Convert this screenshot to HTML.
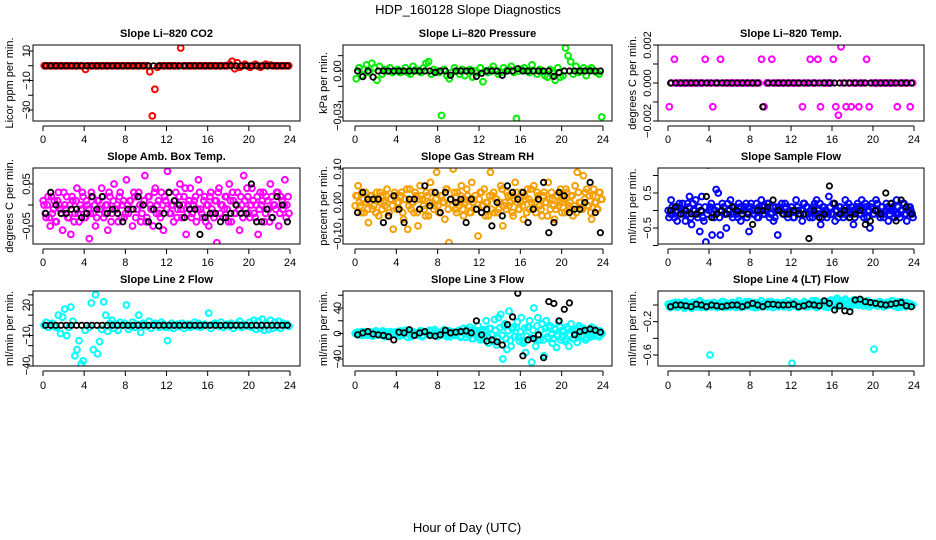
<!DOCTYPE html>
<html><head><meta charset="utf-8"><style>
html,body{margin:0;padding:0;background:#fff;}
svg{display:block;font-family:"Liberation Sans",Arial,sans-serif;}
</style></head><body>
<svg id="chart" width="936" height="540" viewBox="0 0 936 540" xmlns="http://www.w3.org/2000/svg">
<text x="468" y="14" font-size="13" text-anchor="middle">HDP_160128  Slope Diagnostics</text>
<text x="467" y="532" font-size="13" text-anchor="middle">Hour of Day (UTC)</text>
</svg>
<script>
// ---- data arrays ----
const xTickValues = [0,4,8,12,16,20,24];
const p1Colored = [0,0,0,0,0,0,0,0,0,0,0,0,0,0,0,0,
-2.5,0,0,0,0,0,0,0,0,0,0,0,0,0,0,0,
0,0,0,0,0,0,0,0,0,-4,-34,-16,-1,0,0,0,
0,0,0,0,0,12,0,0,0,0,0,0,0,0,0,0,
0,0,0,0,0,0,0,0,1,3,-2,2,-1,0,1,0,
-1,0,1,0,-1,0,1,0,0.5,0,0,0,0,0,0,0];
const p1Colored2 = [];
const p1Black = [0,0,0,0,0,0,0,0,0,0,0,0,0,0,0,0,0,0,0,0,0,0,0,0,0,0,0,0,0,0,0,0,0,0,0,0,0,0,0,0,0,0,0,0,0,0,0,0];
const p2Colored = [-5,2,-3,1,4,-1,5,2,-6,3,-2,1,0,2,-1,0,
1,-1,0,2,-1,-2,3,1,0,-1,2,5,6,-2,1,0,
-1,-29,1,-3,-5,-1,2,0,-2,1,-3,0,1,-4,0,-1,
2,-7,0,-1,1,3,0,-2,-1,2,0,1,3,-1,-31,0,
1,2,0,-1,4,0,-2,1,0,-3,-4,1,-1,-6,2,-4,
-3,15,10,6,-2,3,-1,0,2,-3,1,2,0,-1,-2,-30];
const p2Colored2 = [];
const p2Black = [0,-3.7,0,-4,0,0,0,0,0,0,0,0,0,0,0,-1,0,0,-2.8,0,0,0,0,-3.5,-1.5,0,0,0,-2.8,0,0,1.5,0,0,0,0,0,0,-3.5,-1,0,0,0,0,0,0,0,0];
const p3Colored = [-12.5,0,12.5,0,0,0,0,0,0,0,0,0,0,0,12.5,0,
0,-12.5,0,0,12.5,0,0,0,0,0,0,0,0,0,0,0,
0,0,0,0,12.5,-12.5,0,0,12.5,0,0,0,0,0,0,0,
0,0,0,0,-12.5,0,0,12.5,0,0,12.5,-12.5,0,0,0,0,
12.5,-12.5,-17,19,0,-12.5,0,-12.5,0,0,-12.5,0,0,12.5,-12.5,0,
0,0,0,0,0,0,0,0,0,-12.5,0,0,0,0,-12.5,0];
const p3Colored2 = [];
const p3Black = [0,0,0,0,0,0,0,0,0,0,0,0,0,0,0,0,0,0,-12.5,0,0,0,0,0,0,0,0,0,0,0,0,0,0,0,0,0,0,0,0,0,0,0,0,0,0,0,0,0];
const p4Colored = [0,-3,2,-5,-2,1,-4,3,-1,-6,0,2,-3,-7,1,-2,4,-4,-1,2,
-3,0,-8,3,-2,-5,1,-1,4,-3,0,-6,2,-2,5,-1,-4,3,0,-3,
6,-2,1,-5,2,-1,3,-4,0,7,-3,2,-1,-5,4,0,-2,3,-6,1,
8,-2,0,-4,3,-1,5,-3,2,-7,0,4,-2,1,-4,6,-1,-3,2,0,
-5,3,-2,1,-9,4,0,-3,2,-1,5,-4,1,-2,3,-6,0,7,-1,2,
-3,4,-2,0,-7,3,1,-4,2,-1,5,-3,0,3,-5,2,-1,6,0,-2];
const p4Colored2 = [1,-2,0,-3,2,-1,-4,1,0,-2,3,-1,-3,0,2,-4,1,-2,0,3,-3,1,-1,-2,2,0,-3,1,-1,2,-2,0,3,-4,1,-1,0,2,-3,1,
-2,0,1,-1,3,-3,2,0,-2,1,-4,2,0,-1,3,-2,1,-3,0,2,-1,3,-2,0,1,-3,2,-1,0,4,-2,1,-3,0,2,-1,3,-2,1,-4,
0,2,-1,-3,1,3,-2,0,-1,2,-4,1,3,-2,0,-1,2,-3,1,4,-2,0,1,-3,2,-1,0,3,-2,1,-4,2,0,-1,3,-2,1,0,-3,2];
const p4Black = [-2,3,0,-2,-2,-1,-1,-3,-2,2,-1,2,-2,-1,-2,-4,-1,-1,2,0,-4,-1,-5,-2,3,1,0,-3,-1,-1,-7,-3,-2,-2,-4,-3,-2,0,-2,-2,5,-4,-4,-1,-3,2,0,-4];
const p5Colored = [2,5,-1,3,-3,0,-6,2,-2,1,3,-4,0,2,-1,4,-3,1,-8,2,
0,-2,3,-5,1,-8,4,0,-3,2,-7,5,1,-2,3,-4,6,0,-1,9,
-3,2,0,-5,4,-12,1,10,-2,3,-1,5,-4,0,2,-3,6,1,-2,-10,
3,-1,4,0,-4,9,2,-3,1,-2,5,-7,0,3,-1,2,-4,6,0,-2,
3,-5,1,4,-2,0,5,-3,2,-1,-4,3,0,6,-2,1,-5,2,-1,4,
0,-3,3,-1,2,-4,5,9,0,-2,8,3,-1,2,-5,4,0,-2,3,1];
const p5Colored2 = [-1,2,0,-3,1,3,-2,0,2,-1,-3,1,3,-2,0,2,-4,1,-1,3,-2,0,2,-3,1,4,-1,-2,0,3,-3,1,2,-1,-4,2,0,3,-2,1,
-1,-3,2,0,4,-2,1,-1,3,-3,0,2,-2,1,4,-1,-3,0,2,-2,1,3,-1,-4,0,2,-2,3,1,-3,0,4,-1,-2,2,0,-3,1,3,-2,
0,-1,2,-3,1,4,-2,0,3,-1,-2,2,0,-4,1,3,-1,-2,2,0,-3,1,4,-2,0,2,-1,-3,3,0,-2,1,4,-1,-3,2,0,-2,3,1];
const p5Black = [-3,3,1,1,1,-6,-4,2,-2,-6,1,1,-2,5,-1,3,-3,3,1,0,1,-6,1,-2,-3,-2,-7,0,-4,5,3,1,3,-6,-2,1,6,-9,-6,3,2,-3,-2,-2,0,6,-3,-9];
const p6Colored = [-2,3,-1,1,-3,2,0,-1,-3,2,4,-4,0,3,-2,-6,4,-3,-9,13,
1,-7,-2,6,5,-7,2,-1,-5,0,3,-2,1,-1,2,-3,0,1,-2,-6,
2,-1,0,-2,1,3,-1,0,2,-2,-1,-3,1,-7,0,2,-1,1,-2,0,
1,-2,3,0,-1,-3,2,1,-1,0,-2,2,3,-1,-4,1,0,-2,4,-1,
2,-3,0,1,-1,-2,3,0,-2,1,-4,0,2,-1,3,-2,1,0,-5,2,
-1,3,0,-2,1,-1,2,-3,0,1,-2,3,-1,0,2,-1,-3,1,0,-2];
const p6Colored2 = [0,-1,1,-2,0,1,-1,2,0,-1,1,-2,2,0,-1,1,0,-2,1,-1,0,2,-1,0,1,-2,0,1,-1,2,0,-1,1,0,-2,1,-1,0,2,-1,
1,0,-1,2,-2,0,1,-1,0,2,-1,1,-2,0,1,0,-1,2,-1,0,1,-2,0,1,-1,0,2,-1,1,-2,0,1,-1,0,2,-2,1,0,-1,1,
-1,2,0,-2,1,0,-1,1,2,-1,0,-2,1,1,-1,0,2,-2,0,1,-1,0,2,-1,1,-2,0,1,-1,2,0,-1,1,-2,0,2,-1,0,1,-1];
const p6Black = [0,1,-1,0,-1,-1,0,4,-2,-1,0,-1,1,0,-1,-1,-4,0,0,1,3,0,-1,-1,0,-1,-1,-8,0,-2,-1,7,2,-1,0,-2,-1,0,-4,-3,0,-1,5,2,-3,3,1,-1];
const p7Colored = [0,3,-2,1,2,-1,-2,10,-8,8,16,-10,-2,18,4,-30,-24,-15,-38,-35,
-5,38,-2,22,-24,30,-28,-16,-4,23,10,-6,2,5,-3,1,-5,3,0,2,
20,-4,-1,3,-2,1,10,-7,2,0,-1,4,-3,1,2,0,-2,3,1,-2,
-15,-2,2,-3,0,1,-1,2,-3,0,1,-2,0,3,-1,2,-2,0,1,0,
12,-3,1,2,0,-1,3,-2,0,1,-1,2,-3,0,1,4,-2,1,0,-1,
3,-2,5,-4,4,-3,6,-5,2,-4,5,-3,3,-2,4,-3,2,0,1,-1];
const p7Colored2 = [];
const p7Black = [0,0,0,0,0,0,0,0,0,0,0,0,0,0,0,0,0,0,0,0,0,0,0,0,0,0,0,0,0,0,0,0,0,0,0,0,0,0,0,0,0,0,0,0,0,0,0,0];
const p8Colored = [1,-2,2,-3,3,-1,0,2,-4,1,3,-2,0,4,-5,2,-3,1,0,-2,
3,-4,2,-1,5,-6,0,3,-2,1,-3,4,-5,2,0,-1,3,-2,6,-4,
1,-3,2,0,-5,4,-1,2,-3,1,5,-4,8,-6,2,10,-8,4,-3,12,
-10,6,-5,20,-15,8,-12,22,-18,25,30,-40,15,-25,35,-20,10,-5,18,-12,
25,-15,-30,10,20,-45,40,-20,25,-10,15,-35,20,-8,12,-15,8,-22,18,-10,
5,-12,10,-20,15,-8,6,-14,12,-5,8,-10,5,-6,10,-4,6,-3,4,0];
const p8Colored2 = [0,2,-1,3,-2,1,-3,0,2,-1,4,-2,1,-3,2,0,-4,3,-1,2,-2,1,4,-3,0,2,-1,-5,3,1,-2,0,4,-3,2,-1,5,-2,0,3,
-4,2,-1,6,-3,1,-5,3,0,-2,4,-6,2,-1,7,-3,5,-8,2,4,-6,3,-9,6,-4,8,-2,-10,5,-7,9,-3,12,-8,4,-11,7,-5,10,-6,
3,-12,8,-4,10,-7,5,-9,12,-3,6,-10,8,-5,9,-2,-8,6,-4,11,-6,3,-9,7,-2,5,-8,4,-6,9,-3,2,-7,5,-4,6,-2,3,-5,1];
const p8Black = [-2,1,3,-1,-2,-3,-5,-10,2,1,6,-3,1,3,-3,-4,-2,5,1,2,3,4,1,20,-2,-12,-10,-13,-18,14,26,63,-35,-10,-8,-2,-38,50,47,20,38,48,-2,3,5,7,5,2];
const p9Colored = [-2,1,-1,3,-3,0,2,-2,4,-1,1,-4,0,3,-2,5,-1,1,-3,2,
-60,0,3,-2,1,-1,4,-3,2,0,-2,3,-1,1,5,-3,0,2,-1,4,
-2,1,3,-3,0,5,-1,2,-2,1,4,-3,0,3,-1,1,-2,2,5,0,
-70,-1,3,-3,1,0,4,-2,2,-1,5,1,-3,3,0,2,-2,4,-1,6,
1,3,8,0,5,2,7,-1,4,1,6,3,0,5,2,-1,4,1,3,0,
-53,2,-1,4,1,-2,3,0,2,5,-1,1,4,-2,2,0,3,-1,1,0];
const p9Colored2 = [1,-3,2,0,-2,3,-1,1,-4,2,0,-1,3,-2,1,4,-3,0,2,-1,1,-2,3,0,-3,2,-1,4,0,-2,1,3,-1,-3,2,0,1,-2,4,-1,
0,2,-3,1,3,-1,-2,2,0,4,-1,-3,1,2,-2,0,3,-1,1,-3,2,0,4,-2,1,-1,3,0,-2,2,1,-1,5,-2,0,3,-1,2,-3,1,
4,0,-2,6,1,3,-1,5,2,-2,4,1,6,0,3,-1,2,5,-2,1,3,0,-1,4,2,-2,1,3,0,5,-1,2,-3,1,4,0,-2,2,1,-1];
const p9Black = [-2,0,0,-1,-2,1,0,-2,0,-1,-2,-1,0,0,-2,0,2,0,-2,1,1,0,0,0,1,-2,-1,1,0,-1,5,2,-6,-1,-7,-8,6,7,4,3,2,1,0,1,2,3,-1,-2];

const yTicks1 = [10,0,-10,-20,-30], yLabels1 = ["10","","−10","","−30"];
const yTicks2 = [0.01,0,-0.01,-0.02,-0.03], yLabels2 = ["","0.00","","","−0.03"];
const yTicks3 = [0.002,0.001,0,-0.001,-0.002], yLabels3 = ["0.002","","0.000","","−0.002"];
const yTicks4 = [0.05,0,-0.05], yLabels4 = ["0.05","","−0.05"];
const yTicks5 = [0.10,0.05,0,-0.05,-0.10], yLabels5 = ["0.10","","0.00","","−0.10"];
const yTicks6 = [1.0,0.5,0,-0.5,-1.0], yLabels6 = ["","0.5","","−0.5",""];
const yTicks7 = [30,20,10,0,-10,-20,-30,-40], yLabels7 = ["","20","","","−10","","","−40"];
const yTicks8 = [60,40,20,0,-20,-40], yLabels8 = ["","40","","0","","−40"];
const yTicks9 = [0,-0.2,-0.4,-0.6], yLabels9 = ["","−0.2","","−0.6"];

// ---- layout (not data) ----
const cols = [{l:33,r:300,x0:43,x24:290,tl:30,yt:13},{l:343,r:612,x0:355,x24:603,tl:341,yt:327},{l:658,r:924,x0:668,x24:914,tl:651,yt:636}];
const rows = [{t:45,b:121,title:37,xl:139},{t:168,b:244,title:160,xl:262},{t:291,b:366,title:283,xl:385}];
const panels = [
 {name:"co2",title:"Slope Li–820 CO2",ylab:"Licor ppm per min.",c:0,r:0,color:"#ff0000",unit:1,col:p1Colored,col2:p1Colored2,blk:p1Black,ya:[10,51],yb:[-30,110],ticks:yTicks1,labels:yLabels1},
 {name:"pressure",title:"Slope Li–820 Pressure",ylab:"kPa per min.",c:1,r:0,color:"#00ee00",unit:0.001,col:p2Colored,col2:p2Colored2,blk:p2Black,ya:[0,71],yb:[-0.03,117],ticks:yTicks2,labels:yLabels2},
 {name:"temp",title:"Slope Li–820 Temp.",ylab:"degrees C per min.",c:2,r:0,color:"#ff00ff",unit:0.0001,col:p3Colored,col2:p3Colored2,blk:p3Black,ya:[0.002,45],yb:[-0.002,121],ticks:yTicks3,labels:yLabels3},
 {name:"amb-box-temp",title:"Slope Amb. Box Temp.",ylab:"degrees C per min.",c:0,r:1,color:"#ff00ff",unit:0.01,col:p4Colored,col2:p4Colored2,blk:p4Black,ya:[0.05,184],yb:[-0.05,226],ticks:yTicks4,labels:yLabels4},
 {name:"gas-stream-rh",title:"Slope Gas Stream RH",ylab:"percent per min.",c:1,r:1,color:"#f5a000",unit:0.01,col:p5Colored,col2:p5Colored2,blk:p5Black,ya:[0.10,169],yb:[-0.10,236],ticks:yTicks5,labels:yLabels5},
 {name:"sample-flow",title:"Slope Sample Flow",ylab:"ml/min per min.",c:2,r:1,color:"#0000ff",unit:0.1,col:p6Colored,col2:p6Colored2,blk:p6Black,ya:[0.5,193],yb:[-0.5,228],ticks:yTicks6,labels:yLabels6},
 {name:"line2-flow",title:"Slope Line 2 Flow",ylab:"ml/min per min.",c:0,r:2,color:"#00ffff",unit:1,col:p7Colored,col2:p7Colored2,blk:p7Black,ya:[20,305],yb:[-40,366],ticks:yTicks7,labels:yLabels7},
 {name:"line3-flow",title:"Slope Line 3 Flow",ylab:"ml/min per min.",c:1,r:2,color:"#00ffff",unit:1,col:p8Colored,col2:p8Colored2,blk:p8Black,ya:[40,308],yb:[-40,359],ticks:yTicks8,labels:yLabels8},
 {name:"line4-flow",title:"Slope Line 4 (LT) Flow",ylab:"ml/min per min.",c:2,r:2,color:"#00ffff",unit:0.01,col:p9Colored,col2:p9Colored2,blk:p9Black,ya:[0,305],yb:[-0.6,355],ticks:yTicks9,labels:yLabels9}
];

const NS="http://www.w3.org/2000/svg";
const svg=document.getElementById('chart');
function mk(tag,attrs,parent){const e=document.createElementNS(NS,tag);for(const k in attrs)e.setAttribute(k,attrs[k]);(parent||svg).appendChild(e);return e;}

panels.forEach(p=>{
 const C=cols[p.c],R=rows[p.r];
 const g=mk('g',{});
 
 
 const xs=v=>C.x0+(v/24)*(C.x24-C.x0);
 const ys=v=>p.ya[1]+(v-p.ya[0])*(p.yb[1]-p.ya[1])/(p.yb[0]-p.ya[0]);
 const cid='clip-'+p.name;
 const cp=mk('clipPath',{id:cid},g);
 mk('rect',{x:C.l,y:R.t,width:C.r-C.l,height:R.b-R.t},cp);
 const pts=mk('g',{'clip-path':'url(#'+cid+')'},g);
 
 
 p.col2.forEach((v,i)=>{
  const t=(i+0.1)*24/p.col2.length;
  const c=mk('circle',{cx:xs(t).toFixed(1),cy:ys(v*p.unit).toFixed(1),r:2.9,fill:'none',stroke:p.color,'stroke-width':2},pts);
  
  
 });
 p.col.forEach((v,i)=>{
  const t=(i+0.5)*24/p.col.length;
  const c=mk('circle',{cx:xs(t).toFixed(1),cy:ys(v*p.unit).toFixed(1),r:2.9,fill:'none',stroke:p.color,'stroke-width':2},pts);
  
  
 });
 p.blk.forEach((v,i)=>{
  const t=(i+0.5)*24/p.blk.length;
  const c=mk('circle',{cx:xs(t).toFixed(1),cy:ys(v*p.unit).toFixed(1),r:2.7,fill:'none',stroke:'#000','stroke-width':1.8},pts);
  
  
 });
 const box=mk('rect',{x:C.l,y:R.t,width:C.r-C.l,height:R.b-R.t,fill:'none',stroke:'#000','stroke-width':1},g);
 
 
 const title=mk('text',{x:(C.l+C.r)/2,y:R.title,'font-size':11,'font-weight':'bold','text-anchor':'middle'},g);
 title.textContent=p.title;
 
 
 const xa=mk('g',{},g);
 
 
 mk('line',{x1:C.x0,x2:C.x24,y1:R.b+5,y2:R.b+5,stroke:'#000'},xa);
 xTickValues.forEach(v=>{
  mk('line',{x1:xs(v),x2:xs(v),y1:R.b+5,y2:R.b+10,stroke:'#000'},xa);
  const tx=mk('text',{x:xs(v),y:R.xl+4,'font-size':11,'text-anchor':'middle'},xa);
  tx.textContent=v;
  
  
 });
 const ya=mk('g',{},g);
 
 
 const yv=p.ticks.map(ys);
 mk('line',{x1:C.l,x2:C.l,y1:Math.min(...yv),y2:Math.max(...yv),stroke:'#000'},ya);
 p.ticks.forEach((v,i)=>{
  const y=ys(v);
  mk('line',{x1:C.l-5,x2:C.l,y1:y,y2:y,stroke:'#000'},ya);
  if(p.labels[i]){
   const tx=mk('text',{x:C.tl,y:y,'font-size':11,'text-anchor':'middle',transform:'rotate(-90 '+C.tl+' '+y+')'},ya);
   tx.textContent=p.labels[i];
   
   
  }
 });
 const my=(R.t+R.b)/2;
 const yl=mk('text',{x:C.yt,y:my,'font-size':11,'text-anchor':'middle',transform:'rotate(-90 '+C.yt+' '+my+')'},g);
 yl.textContent=p.ylab;
 
 
});
</script>
</body></html>
